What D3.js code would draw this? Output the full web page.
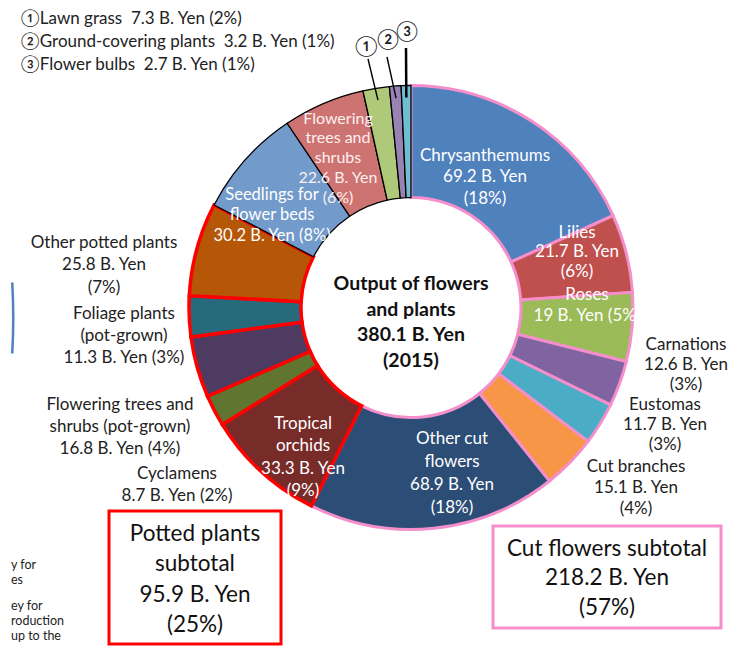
<!DOCTYPE html>
<html>
<head>
<meta charset="utf-8">
<script src="https://cdn.jsdelivr.net/npm/d3@7"></script>
<style>
  body { margin: 0; background: #fff; }
  svg text { font-family: Lato, "Noto Sans", sans-serif; white-space: pre; }
</style>
</head>
<body>
<svg id="chart" width="731" height="647"></svg>
<script>
// chart values, clockwise from 12 o'clock
var names = ["Chrysanthemums", "Lilies", "Roses", "Carnations", "Eustomas", "Cut branches",
  "Other cut flowers", "Tropical orchids", "Cyclamens", "Flowering trees and shrubs (pot-grown)",
  "Foliage plants (pot-grown)", "Other potted plants", "Seedlings for flower beds",
  "Flowering trees and shrubs", "Lawn grass", "Ground-covering plants", "Flower bulbs"];
var values = [69.2, 21.7, 19, 12.6, 11.7, 15.1, 68.9, 33.3, 8.7, 16.8, 11.3, 25.8, 30.2, 22.6, 7.3, 3.2, 2.7];
var shares = ["18%", "6%", "5%", "3%", "3%", "4%", "18%", "9%", "2%", "4%", "3%", "7%", "8%", "6%", "2%", "1%", "1%"];
var groups = ["cut", "cut", "cut", "cut", "cut", "cut", "cut", "pot", "pot", "pot", "pot", "pot",
  "other", "other", "other", "other", "other"];
var colors = ["#4F81BD", "#C0504D", "#9BBB59", "#8064A2", "#4BACC6", "#F79646", "#2C4D75",
  "#772C2A", "#5F7530", "#4D3B62", "#276A7C", "#B65708", "#729ACA", "#CD7371", "#AFC97A", "#9983B5", "#6FBDD1"];
var labelLines = [
  ["Chrysanthemums", "69.2 B. Yen", "(18%)"],
  ["Lilies", "21.7 B. Yen", "(6%)"],
  ["Roses", "19 B. Yen (5%)"],
  ["Carnations", "12.6 B. Yen", "(3%)"],
  ["Eustomas", "11.7 B. Yen", "(3%)"],
  ["Cut branches", "15.1 B. Yen", "(4%)"],
  ["Other cut", "flowers", "68.9 B. Yen", "(18%)"],
  ["Tropical", "orchids", "33.3 B. Yen", "(9%)"],
  ["Cyclamens", "8.7 B. Yen (2%)"],
  ["Flowering trees and", "shrubs (pot-grown)", "16.8 B. Yen (4%)"],
  ["Foliage plants", "(pot-grown)", "11.3 B. Yen (3%)"],
  ["Other potted plants", "25.8 B. Yen", "(7%)"],
  ["Seedlings for", "flower beds", "30.2 B. Yen (8%)"],
  ["Flowering", "trees and", "shrubs", "22.6 B. Yen", "(6%)"],
  null, null, null
];
var smallMarks = ["\u2460", "\u2461", "\u2462"];
var legendLines = ["\u2460Lawn grass  7.3 B. Yen (2%)", "\u2461Ground-covering plants  3.2 B. Yen (1%)", "\u2462Flower bulbs  2.7 B. Yen (1%)"];
var titleLines = ["Output of flowers", "and plants", "380.1 B. Yen", "(2015)"];
var potBox = ["Potted plants", "subtotal", "95.9 B. Yen", "(25%)"];
var cutBox = ["Cut flowers subtotal", "218.2 B. Yen", "(57%)"];
var edgeText = ["y for", "es", "ey for", "roduction", "up to the"];

// layout
var cx = 411, cy = 307.5, rOut = 222, rIn = 110;
var svg = d3.select("#chart");
var slices = names.map(function(n, i) {
  return {name: n, value: values[i], group: groups[i], color: colors[i], lines: labelLines[i], i: i};
});
var pie = d3.pie().sort(null).value(function(d) { return d.value; });
var arcs = pie(slices);
var arc = d3.arc().innerRadius(rIn).outerRadius(rOut);
var g = svg.append("g").attr("transform", "translate(" + cx + "," + cy + ")");

var strokeStyle = {
  cut: {color: "#F58FCB", width: 3},
  pot: {color: "#FF0000", width: 3.5},
  other: {color: "#000", width: 1.3}
};
["cut", "pot", "other"].forEach(function(grp) {
  g.selectAll("path." + grp)
    .data(arcs.filter(function(a) { return a.data.group == grp; }))
    .enter().append("path")
    .attr("class", grp)
    .attr("d", arc)
    .attr("fill", function(a) { return a.data.color; })
    .attr("stroke", strokeStyle[grp].color)
    .attr("stroke-width", strokeStyle[grp].width)
    .attr("stroke-linejoin", "miter");
});

// label placement (first line centre, line step, colour, font size)
var labelPos = {
  "Chrysanthemums": [485, 155, 21.5, "#fff", 17],
  "Lilies": [577, 232, 19.5, "#fff", 17],
  "Roses": [587, 294, 21, "#fff", 17],
  "Carnations": [686, 344, 20, "#222", 17],
  "Eustomas": [665, 404, 20, "#222", 17],
  "Cut branches": [636, 466, 21, "#222", 17],
  "Other cut flowers": [452, 438, 23, "#fff", 17],
  "Tropical orchids": [303, 423, 22.5, "#fff", 17],
  "Cyclamens": [177, 473, 22, "#222", 17],
  "Flowering trees and shrubs (pot-grown)": [120, 404, 22, "#222", 17],
  "Foliage plants (pot-grown)": [124, 313, 22, "#222", 17],
  "Other potted plants": [104, 242, 22.5, "#222", 17],
  "Seedlings for flower beds": [272, 194, 20.5, "#fff", 16.5],
  "Flowering trees and shrubs": [338, 118, 19.8, "#fdf0f0", 16]
};
slices.forEach(function(s) {
  if (!s.lines) return;
  var p = labelPos[s.name];
  var t = svg.append("text")
    .attr("text-anchor", "middle")
    .attr("fill", p[3])
    .style("font-size", p[4] + "px");
  s.lines.forEach(function(line, k) {
    t.append("tspan").attr("x", p[0]).attr("y", p[1] + k * p[2]).attr("dy", "0.35em").text(line);
  });
});

// leader lines for the three thin slices
var leadStart = [[368, 59], [387, 57], [406, 48]];
var markPos = [[366, 46], [388, 39], [407, 31]];
arcs.slice(14).forEach(function(a, k) {
  var mid = (a.startAngle + a.endAngle) / 2;
  var r = rOut - 12;
  svg.append("line")
    .attr("x1", leadStart[k][0]).attr("y1", leadStart[k][1])
    .attr("x2", cx + r * Math.sin(mid)).attr("y2", cy - r * Math.cos(mid))
    .attr("stroke", "#000").attr("stroke-width", k == 2 ? 2.5 : 1.4);
  svg.append("text")
    .attr("x", markPos[k][0]).attr("y", markPos[k][1]).attr("dy", "0.35em")
    .attr("text-anchor", "middle").style("font-size", "20px").attr("fill", "#222")
    .text(smallMarks[k]);
});

// legend for the small slices
legendLines.forEach(function(line, k) {
  svg.append("text").attr("x", 21).attr("y", 18 + k * 23).attr("dy", "0.35em")
    .style("font-size", "17px").attr("fill", "#222").text(line);
});

// centre title
var title = svg.append("text").attr("text-anchor", "middle").attr("fill", "#111")
  .style("font-size", "19.5px").style("font-weight", "bold");
titleLines.forEach(function(line, k) {
  title.append("tspan").attr("x", cx).attr("y", 283 + k * 25.7).attr("dy", "0.35em").text(line);
});

// subtotal boxes
function box(x, y, w, h, stroke, lines, top, step) {
  svg.append("rect").attr("x", x).attr("y", y).attr("width", w).attr("height", h)
    .attr("fill", "#fff").attr("stroke", stroke).attr("stroke-width", 3);
  var t = svg.append("text").attr("text-anchor", "middle").attr("fill", "#111").style("font-size", "22.5px");
  lines.forEach(function(line, k) {
    t.append("tspan").attr("x", x + w / 2).attr("y", top + k * step).attr("dy", "0.35em").text(line);
  });
}
box(109, 511, 172, 133, "#FF0000", potBox, 533, 30.5);
box(493, 526, 228, 102, "#F58FCB", cutBox, 548, 29.5);

// cropped neighbour content at the left edge
svg.append("path")
  .attr("transform", "translate(-600,318)")
  .attr("d", d3.arc().innerRadius(612).outerRadius(614.5).startAngle(Math.PI / 2 - 0.058).endAngle(Math.PI / 2 + 0.058)())
  .attr("fill", "#4F81BD");
var edgeY = [565, 580, 606, 621, 636];
edgeText.forEach(function(line, k) {
  svg.append("text").attr("x", 11).attr("y", edgeY[k]).attr("dy", "0.35em")
    .style("font-size", "12.5px").attr("fill", "#222").text(line);
});
</script>
</body>
</html>
